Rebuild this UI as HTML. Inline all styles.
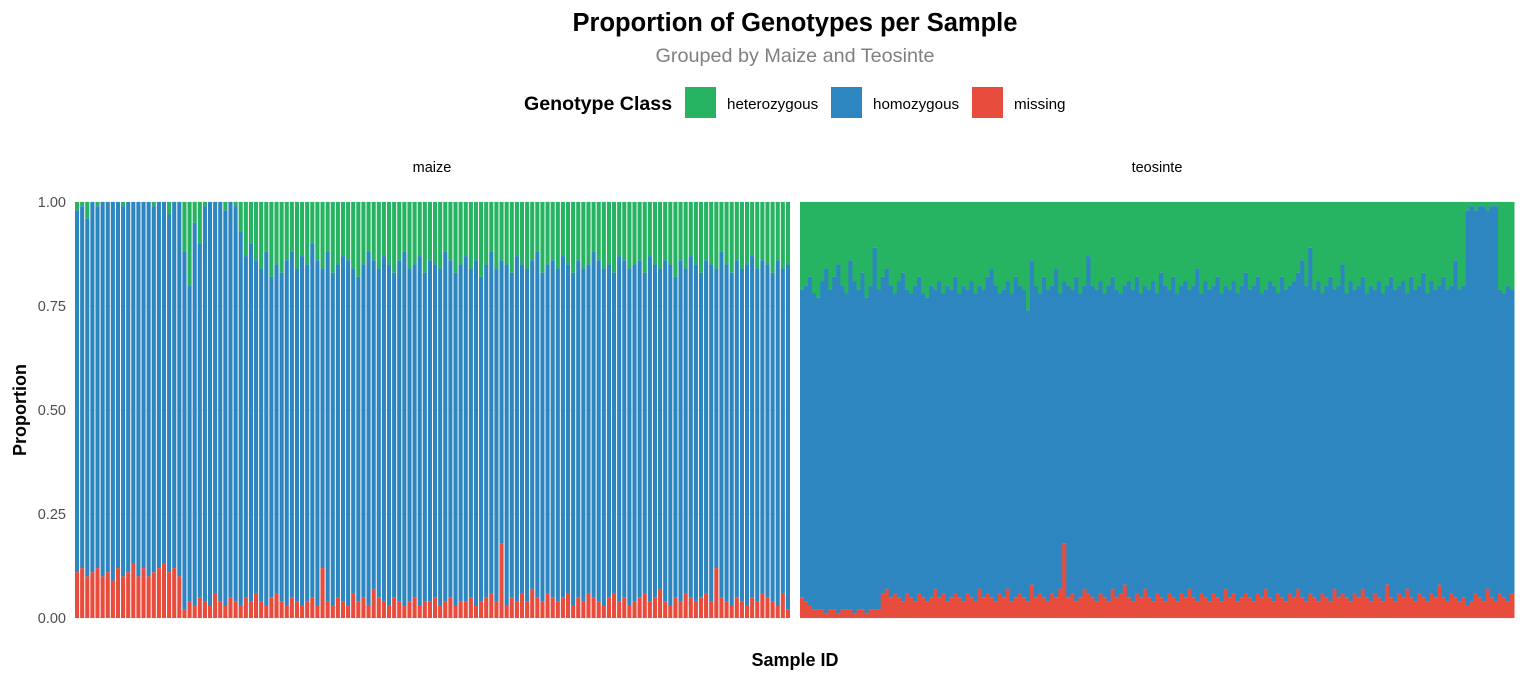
<!DOCTYPE html>
<html><head><meta charset="utf-8"><style>
body{margin:0;background:#fff;font-family:"Liberation Sans",Arial,sans-serif}
svg text{font-family:"Liberation Sans",Arial,sans-serif}
</style></head><body>
<svg id="chart" width="1525" height="680" xmlns="http://www.w3.org/2000/svg">
<text x="795" y="31" text-anchor="middle" font-size="25.5" font-weight="bold" fill="#000">Proportion of Genotypes per Sample</text>
<text x="795" y="62" text-anchor="middle" font-size="19.8" fill="#808080">Grouped by Maize and Teosinte</text>
<g>
<text x="524" y="110" font-size="19.6" font-weight="bold">Genotype Class</text>
<g><rect x="685" y="87" width="31" height="31" fill="#27b462"/><text x="727" y="109" font-size="15.2">heterozygous</text></g>
<g><rect x="831" y="87" width="31" height="31" fill="#2e86c1"/><text x="873" y="109" font-size="15.2">homozygous</text></g>
<g><rect x="972" y="87" width="31" height="31" fill="#e74c3c"/><text x="1014" y="109" font-size="15.2">missing</text></g>
</g>
<text x="432" y="172" text-anchor="middle" font-size="14.5">maize</text>
<text x="1157" y="172" text-anchor="middle" font-size="14.5">teosinte</text>
<text transform="translate(26,410) rotate(-90)" text-anchor="middle" font-size="18" font-weight="bold">Proportion</text>
<text x="795" y="666" text-anchor="middle" font-size="18" font-weight="bold">Sample ID</text>
<g id="grid"></g><g id="yticks"></g><g id="bars"></g>
</svg>
<script>
const yTicks=[0,0.25,0.5,0.75,1];
const yTickLabels=["0.00","0.25","0.50","0.75","1.00"];
const maizeMissing=[0.11,0.12,0.10,0.11,0.12,0.10,0.11,0.09,0.12,0.10,0.11,0.13,0.10,0.12,0.10,0.11,0.12,0.13,0.11,0.12,0.10,
0.02,0.04,0.03,0.05,0.04,0.03,0.06,0.04,0.03,0.05,0.04,0.03,0.05,0.04,0.06,0.04,0.03,0.05,0.06,0.04,0.03,0.05,0.04,0.03,0.04,0.05,0.03,0.12,0.04,0.03,0.05,0.04,0.03,0.06,0.04,0.05,0.03,0.07,0.05,0.04,0.03,0.05,0.04,0.03,0.04,0.05,0.03,0.04,0.04,0.05,0.03,0.04,0.05,0.03,0.04,0.04,0.05,0.03,0.04,0.05,0.06,0.04,0.18,0.03,0.05,0.04,0.06,0.04,0.07,0.05,0.04,0.06,0.05,0.04,0.05,0.06,0.03,0.05,0.04,0.06,0.05,0.04,0.03,0.05,0.06,0.04,0.05,0.03,0.04,0.05,0.06,0.04,0.05,0.07,0.04,0.03,0.05,0.04,0.06,0.05,0.04,0.05,0.06,0.04,0.12,0.05,0.04,0.03,0.05,0.04,0.03,0.05,0.04,0.06,0.05,0.04,0.03,0.06,0.02];
const maizeTop=[0.98,0.99,0.96,1.0,0.99,1.0,1.0,1.0,1.0,0.99,1.0,1.0,1.0,1.0,1.0,0.99,1.0,1.0,0.97,1.0,1.0,
0.88,0.80,0.95,0.90,0.99,1.0,1.0,1.0,0.98,1.0,0.99,0.93,0.87,0.90,0.86,0.84,0.88,0.82,0.85,0.83,0.86,0.88,0.84,0.87,0.85,0.90,0.86,0.84,0.88,0.83,0.85,0.87,0.86,0.84,0.82,0.85,0.88,0.86,0.84,0.87,0.85,0.83,0.86,0.88,0.84,0.85,0.87,0.83,0.86,0.85,0.84,0.88,0.86,0.83,0.85,0.87,0.84,0.86,0.82,0.85,0.88,0.84,0.86,0.85,0.83,0.87,0.85,0.84,0.86,0.88,0.83,0.85,0.86,0.84,0.87,0.85,0.83,0.86,0.84,0.85,0.88,0.86,0.84,0.85,0.83,0.87,0.86,0.84,0.85,0.86,0.83,0.87,0.85,0.84,0.86,0.85,0.82,0.86,0.84,0.87,0.85,0.83,0.86,0.85,0.84,0.88,0.85,0.83,0.86,0.84,0.85,0.87,0.84,0.86,0.85,0.83,0.86,0.84,0.85,0.87,0.84,0.86,0.83];
const teoMissing=[0.05,0.04,0.03,0.02,0.02,0.02,0.01,0.02,0.02,0.01,0.02,0.02,0.02,0.01,0.02,0.02,0.01,0.02,0.02,0.02,0.06,0.07,0.05,0.06,0.05,0.04,0.06,0.05,0.04,0.06,0.05,0.04,0.05,0.07,0.05,0.06,0.04,0.05,0.06,0.05,0.04,0.06,0.05,0.04,0.07,0.05,0.06,0.05,0.04,0.06,0.05,0.07,0.04,0.05,0.06,0.05,0.04,0.08,0.05,0.06,0.05,0.04,0.06,0.05,0.07,0.18,0.05,0.06,0.04,0.05,0.07,0.06,0.05,0.04,0.06,0.05,0.04,0.07,0.05,0.06,0.08,0.05,0.04,0.06,0.05,0.07,0.05,0.04,0.06,0.05,0.04,0.06,0.05,0.04,0.06,0.05,0.07,0.05,0.04,0.06,0.05,0.04,0.06,0.05,0.04,0.07,0.05,0.06,0.04,0.05,0.06,0.05,0.04,0.06,0.05,0.07,0.05,0.04,0.06,0.05,0.04,0.06,0.05,0.07,0.05,0.04,0.06,0.05,0.04,0.06,0.05,0.04,0.07,0.05,0.06,0.05,0.04,0.06,0.05,0.07,0.05,0.04,0.06,0.05,0.04,0.08,0.05,0.04,0.06,0.05,0.07,0.05,0.04,0.06,0.05,0.04,0.06,0.05,0.08,0.05,0.04,0.06,0.05,0.04,0.05,0.03,0.04,0.06,0.05,0.04,0.07,0.05,0.04,0.06,0.05,0.04,0.06,0.05];
const teoTop=[0.79,0.80,0.82,0.78,0.77,0.81,0.84,0.79,0.82,0.85,0.80,0.78,0.86,0.81,0.79,0.83,0.77,0.80,0.89,0.79,0.82,0.84,0.80,0.78,0.81,0.83,0.79,0.78,0.80,0.82,0.78,0.77,0.80,0.79,0.81,0.78,0.80,0.79,0.82,0.78,0.80,0.79,0.81,0.78,0.80,0.79,0.82,0.84,0.80,0.78,0.79,0.81,0.78,0.82,0.80,0.79,0.74,0.86,0.80,0.78,0.82,0.79,0.80,0.84,0.78,0.81,0.80,0.79,0.82,0.78,0.80,0.87,0.80,0.79,0.81,0.78,0.80,0.82,0.79,0.78,0.80,0.81,0.79,0.82,0.78,0.80,0.79,0.81,0.78,0.83,0.80,0.79,0.82,0.78,0.80,0.81,0.79,0.80,0.84,0.78,0.81,0.79,0.80,0.82,0.78,0.80,0.79,0.81,0.78,0.80,0.83,0.79,0.80,0.82,0.78,0.79,0.81,0.80,0.78,0.82,0.79,0.80,0.81,0.83,0.86,0.80,0.89,0.79,0.81,0.78,0.80,0.82,0.79,0.80,0.85,0.78,0.81,0.79,0.80,0.82,0.78,0.80,0.79,0.81,0.78,0.80,0.82,0.79,0.80,0.81,0.78,0.82,0.79,0.80,0.83,0.78,0.81,0.79,0.80,0.82,0.79,0.80,0.86,0.79,0.80,0.98,0.99,0.98,0.99,0.99,0.98,0.99,0.99,0.79,0.78,0.80,0.79];
const colors={het:"#27b462",hom:"#2e86c1",miss:"#e74c3c"};
const y0=618,y1=202;
const ys=v=>y0-(y0-y1)*v;
const NS="http://www.w3.org/2000/svg";
const bars=document.getElementById('bars');
function rect(x,y,w,h,fill,name){const r=document.createElementNS(NS,'rect');r.setAttribute('x',x);r.setAttribute('y',y);r.setAttribute('width',w);r.setAttribute('height',Math.max(0,h));r.setAttribute('fill',fill);


bars.appendChild(r);}
const grid=document.getElementById('grid'),yt=document.getElementById('yticks');
yTicks.forEach((t,i)=>{const yy=ys(t);
[[75,790],[800,1514]].forEach(p=>{const l=document.createElementNS(NS,'line');l.setAttribute('x1',p[0]);l.setAttribute('x2',p[1]);l.setAttribute('y1',yy);l.setAttribute('y2',yy);l.setAttribute('stroke','#ebebeb');


grid.appendChild(l);});
const tx=document.createElementNS(NS,'text');tx.setAttribute('x',66);tx.setAttribute('y',yy+5);tx.setAttribute('text-anchor','end');tx.setAttribute('font-size','14.5');tx.setAttribute('fill','#4d4d4d');tx.textContent=yTickLabels[i];


yt.appendChild(tx);});
function panel(x0,x1,miss,top,gap){const n=Math.min(miss.length,top.length),bw=(x1-x0)/n;
for(let i=0;i<n;i++){const x=x0+i*bw,w=gap?bw-gap:bw+0.5;
rect(x,ys(1),w,ys(top[i])-ys(1),colors.het,'bar-heterozygous');
rect(x,ys(top[i]),w,ys(miss[i])-ys(top[i]),colors.hom,'bar-homozygous');
rect(x,ys(miss[i]),w,y0-ys(miss[i]),colors.miss,'bar-missing');}}
panel(75,791,maizeMissing,maizeTop,1);
panel(800,1514,teoMissing,teoTop,0);
</script>
</body></html>
